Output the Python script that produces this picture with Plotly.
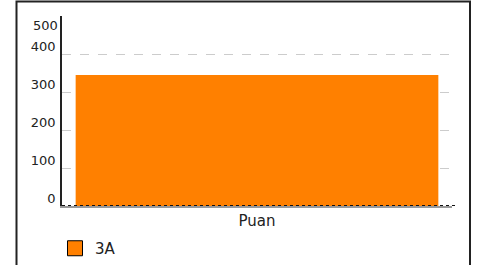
import plotly.graph_objects as go

categories = ["Puan"]
series_name = "3A"
values = [345]
y_tick_values = [0, 100, 200, 300, 400]
y_tick_labels = ["0", "100", "200", "300", "400"]
y_top_label = "500"
y_max = 500

W, H = 494, 265
ml, mr, mt, mb = 62, 42, 16, 59
pw = W - ml - mr
ph = H - mt - mb

def px_to_paper_x(px):
    return (px - ml) / pw

def px_to_paper_y(py):
    return 1 - (py - mt) / ph

fig = go.Figure()
fig.add_trace(go.Bar(x=categories, y=values, marker=dict(color="#FF8000", line=dict(width=0)),
                     showlegend=False, name=series_name))
fig.add_trace(go.Scatter(x=[None], y=[None], mode="markers", name=series_name,
                         marker=dict(symbol="square", size=15, color="#FF8000",
                                     line=dict(color="black", width=1))))

fig.update_layout(
    width=W, height=H,
    margin=dict(l=ml, r=mr, t=mt, b=mb, autoexpand=False),
    paper_bgcolor="white", plot_bgcolor="white",
    bargap=0.07,
    font=dict(family="DejaVu Sans", color="#222"),
    showlegend=True,
    legend=dict(orientation="h", x=px_to_paper_x(55), xanchor="left",
                y=px_to_paper_y(232), yanchor="top",
                font=dict(size=15, family="DejaVu Sans", color="#222"),
                bgcolor="rgba(0,0,0,0)"),
    xaxis=dict(showgrid=False, showline=True, linecolor="#999", linewidth=2,
               ticks="", tickfont=dict(size=15), ticklabelstandoff=0, zeroline=False,
               automargin=False),
    yaxis=dict(range=[0, y_max], tickvals=y_tick_values, ticktext=y_tick_labels,
               showgrid=True, gridcolor="#cccccc", griddash="dash", gridwidth=1,
               showline=True, linecolor="#222", linewidth=1.5, zeroline=False,
               ticks="", tickfont=dict(size=13), ticklabelshift=-8, ticklabelstandoff=2,
               automargin=False),
)

fig.add_annotation(text=y_top_label, xref="paper", yref="y", x=0, y=y_max,
                   xanchor="right", yanchor="middle", xshift=-2, yshift=-9,
                   showarrow=False, font=dict(size=13, color="#222"))

# dashed baseline over x axis
fig.add_shape(type="line", xref="paper", yref="y", x0=0, x1=px_to_paper_x(456), y0=0, y1=0,
              line=dict(color="#111", width=2, dash="3px,3px"))

# outer frame
fig.add_shape(type="rect", xref="paper", yref="paper",
              x0=px_to_paper_x(16.5), x1=px_to_paper_x(470),
              y0=px_to_paper_y(300), y1=px_to_paper_y(1.5),
              line=dict(color="#222", width=2), fillcolor="rgba(0,0,0,0)", layer="above")

fig.write_html("out.html", config={"displayModeBar": False},
               post_script="document.body.style.margin='0';document.body.style.overflow='hidden';")
